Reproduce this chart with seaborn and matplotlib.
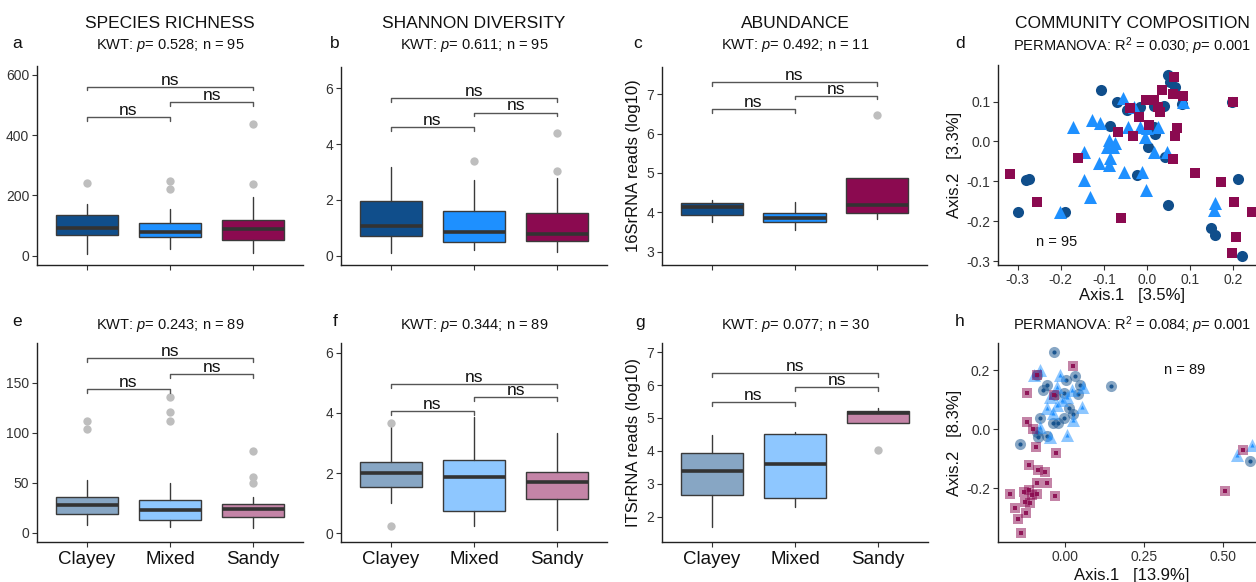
import numpy as np
import pandas as pd
import matplotlib
matplotlib.use("Agg")
import matplotlib.pyplot as plt
from matplotlib.colors import to_rgba
import seaborn as sns

# ---------------- data ----------------
groups = ["Clayey", "Mixed", "Sandy"]
group_colors = ["#104E8B", "#1E90FF", "#8B0A50"]

# box summaries per group: [lower whisker, Q1, median, Q3, upper whisker]
rich_bact = [[6, 69, 91, 135, 171], [21, 61, 77.5, 107, 155], [8, 52, 87.5, 117, 196]]
rich_bact_out = [[242], [249, 222], [237, 436.5]]
rich_bact_br = [459, 509, 560]

shan_bact = [[0.085, 0.706, 1.06, 1.97, 3.17], [0.2, 0.5, 0.84, 1.6, 2.71], [0.12, 0.54, 0.77, 1.54, 2.77]]
shan_bact_out = [[], [3.39], [3.04, 4.39]]
shan_bact_br = [4.61, 5.13, 5.64]

abun_bact = [[3.75, 3.93, 4.14, 4.24, 4.31], [3.55, 3.76, 3.86, 3.97, 4.26], [3.83, 3.98, 4.19, 4.87, 4.87]]
abun_bact_out = [[], [], [6.46]]
abun_bact_br = [6.62, 6.96, 7.31]

rich_fung = [[7.7, 18.7, 28, 35.7, 52.7], [6, 12.7, 22.7, 32.7, 49.3], [5, 15.3, 24, 28.7, 36]]
rich_fung_out = [[111.3, 104], [136, 120.3, 111.3], [82, 55.3, 50]]
rich_fung_br = [143.3, 158.7, 174.3]

shan_fung = [[1.0, 1.55, 2.0, 2.38, 3.54], [0.24, 0.73, 1.87, 2.43, 3.87], [0.11, 1.15, 1.71, 2.05, 3.32]]
shan_fung_out = [[3.65, 0.25], [], []]
shan_fung_br = [4.06, 4.52, 4.96]

abun_fung = [[1.68, 2.66, 3.38, 3.95, 4.48], [2.30, 2.58, 3.59, 4.52, 4.57], [4.85, 4.85, 5.16, 5.21, 5.29]]
abun_fung_out = [[], [], [4.04]]
abun_fung_br = [5.48, 5.93, 6.37]

# ordination (bacteria)
d_clayey_x = [-0.106, 0.049, 0.054, 0.066, -0.070, -0.016, 0.016, 0.039, 0.081, -0.085, 0.019, 0.002,
              0.043, -0.022, -0.281, -0.275, -0.300, -0.190, 0.050, 0.149, 0.159, 0.213, 0.199, 0.221,
              -0.047, 0.016]
d_clayey_y = [0.129, 0.167, 0.150, 0.136, 0.100, 0.087, 0.089, 0.089, 0.093, 0.039, 0.020, -0.013,
              -0.038, -0.084, -0.097, -0.094, -0.176, -0.176, -0.160, -0.217, -0.235, -0.093, 0.098, -0.288,
              0.079, 0.037]
d_mixed_x = [-0.056, -0.128, -0.171, -0.109, -0.089, -0.078, -0.093, -0.074, -0.146, -0.112, -0.085,
             -0.089, -0.146, -0.133, -0.054, -0.012, -0.002, 0.016, 0.047, -0.043, -0.016, 0.000,
             0.027, -0.004, -0.202, 0.159, 0.157, 0.085, -0.031]
d_mixed_y = [0.108, 0.054, 0.036, 0.046, 0.004, -0.013, -0.013, -0.005, -0.026, -0.055, -0.042,
             -0.059, -0.097, -0.139, -0.076, -0.076, -0.122, -0.026, -0.026, 0.037, 0.037, 0.033,
             0.037, 0.012, -0.176, -0.155, -0.172, 0.100, 0.087]
d_sandy_x = [-0.318, -0.256, -0.161, -0.067, -0.033, -0.060, -0.039, -0.018, 0.005, -0.002, 0.016,
             0.027, 0.031, 0.036, 0.060, 0.062, 0.085, 0.071, 0.066, 0.060, 0.111, 0.173, 0.200,
             0.202, 0.208, 0.199, 0.244]
d_sandy_y = [-0.082, -0.151, -0.042, 0.023, 0.014, -0.193, 0.083, 0.062, 0.041, 0.104, 0.104,
             0.087, 0.075, 0.129, 0.119, 0.161, 0.113, 0.033, 0.014, -0.045, -0.078, -0.101, 0.100,
             -0.151, -0.239, -0.279, -0.178]

# ordination (fungi)
h_clayey_x = [-0.034, 0.145, -0.143, -0.058, 0.003, 0.032, 0.048, 0.042, -0.003, -0.069, -0.079,
              -0.037, -0.021, -0.005, 0.011, 0.026, -0.090, -0.058, -0.085, -0.090, 0.587, -0.032]
h_clayey_y = [0.262, 0.146, -0.051, 0.151, 0.168, 0.180, 0.149, 0.119, 0.124, 0.132, 0.036,
              0.019, 0.019, 0.036, 0.070, 0.050, -0.009, -0.023, -0.026, 0.183, -0.108, 0.115]
h_mixed_x = [-0.098, -0.079, -0.016, -0.048, -0.026, -0.058, -0.037, -0.011, 0.005, 0.053, 0.026,
             0.005, -0.048, -0.079, 0.058, 0.593, 0.545, -0.026, 0.021]
h_mixed_y = [0.183, 0.200, 0.183, 0.110, 0.081, 0.070, 0.053, 0.098, 0.110, 0.076, 0.031,
             -0.020, -0.026, 0.008, 0.144, -0.054, -0.088, 0.144, 0.132]
h_sandy_x = [0.024, -0.090, -0.120, -0.034, -0.120, -0.103, -0.092, -0.030, -0.116, -0.085, -0.063,
             -0.058, -0.175, -0.132, -0.116, -0.106, -0.090, -0.111, -0.127, -0.032, -0.159, -0.151,
             -0.124, -0.140, 0.564, 0.508, -0.090]
h_sandy_y = [0.214, 0.183, 0.121, 0.115, 0.025, -0.001, -0.060, -0.082, -0.122, -0.139, -0.145,
             -0.182, -0.220, -0.212, -0.207, -0.224, -0.220, -0.252, -0.246, -0.227, -0.269, -0.306,
             -0.286, -0.354, -0.071, -0.209, -0.184]

col_titles = ["SPECIES RICHNESS", "SHANNON DIVERSITY", "ABUNDANCE", "COMMUNITY COMPOSITION"]

# ---------------- style ----------------
sns.set_theme(style="ticks")
plt.rcParams["font.family"] = ["Liberation Sans", "DejaVu Sans"]
plt.rcParams["mathtext.fontset"] = "custom"
plt.rcParams["mathtext.rm"] = "Liberation Sans"
plt.rcParams["mathtext.it"] = "Liberation Sans:italic"

W, H = 1256, 582
fig = plt.figure(figsize=(W / 100, H / 100), dpi=100)


def rect(x0, y0, x1, y1):
    return [x0 / W, 1 - y1 / H, (x1 - x0) / W, (y1 - y0) / H]


def style_axes(ax):
    sns.despine(ax=ax)
    for s in ["left", "bottom"]:
        ax.spines[s].set_color("#222222")
        ax.spines[s].set_linewidth(1.0)
    ax.tick_params(axis="both", direction="out", length=3.5, width=0.8, color="#333333",
                   labelsize=10, labelcolor="#333333", pad=2)


def box_panel(ax, stats, outs, brackets, alpha, ylim, yticks, xlabels, ylabel=None):
    bstats = []
    for g, s, o in zip(groups, stats, outs):
        bstats.append(dict(whislo=s[0], q1=s[1], med=s[2], q3=s[3], whishi=s[4],
                           fliers=np.array(o, dtype=float), label=g))
    bp = ax.bxp(bstats, positions=[0, 1, 2], widths=0.75, patch_artist=True, showcaps=False,
                boxprops=dict(edgecolor="#3a3a3a", linewidth=1.0),
                medianprops=dict(color="#333333", linewidth=2.6, solid_capstyle="butt"),
                whiskerprops=dict(color="#3a3a3a", linewidth=1.0),
                flierprops=dict(marker="o", markerfacecolor="#BEBEBE", markeredgecolor="none",
                                markersize=6))
    for patch, c in zip(bp["boxes"], group_colors):
        patch.set_facecolor(to_rgba(c, alpha))
    pairs = [(0, 1), (1, 2), (0, 2)]
    span = ylim[1] - ylim[0]
    tick = 0.018 * span
    for (i, j), yb in zip(pairs, brackets):
        ax.plot([i, i, j, j], [yb - tick, yb, yb, yb - tick], color="#555555", lw=1.0)
        ax.annotate("ns", xy=((i + j) / 2, yb), xytext=(0, 1.5), textcoords="offset points",
                    ha="center", va="baseline", fontsize=12.5, color="#111111")
    ax.set_xlim(-0.6, 2.6)
    ax.set_ylim(*ylim)
    ax.set_yticks(yticks)
    style_axes(ax)
    ax.set_xticks([0, 1, 2])
    if xlabels:
        ax.set_xticklabels(groups, fontsize=13.5, color="#111111")
        ax.tick_params(axis="x", labelcolor="#111111", labelsize=13.5, pad=3)
    else:
        ax.set_xticklabels([])
    ax.set_xlabel("")
    if ylabel:
        ax.set_ylabel(ylabel, fontsize=12, color="#111111", labelpad=4)


def scatter_panel(ax, xs, ys, two_layer):
    shapes = {"Clayey": "o", "Mixed": "^", "Sandy": "s"}
    sizes = {"Clayey": 64, "Mixed": 88, "Sandy": 52}
    for g, c, x, y in zip(groups, group_colors, xs, ys):
        df = pd.DataFrame({"x": x, "y": y})
        if two_layer:
            sns.scatterplot(data=df, x="x", y="y", ax=ax, marker=shapes[g], color=c,
                            s=sizes[g] * 1.0, alpha=0.5, linewidth=0, legend=False)
            sns.scatterplot(data=df, x="x", y="y", ax=ax, marker=shapes[g], color=c,
                            s=9, alpha=0.9, linewidth=0, legend=False)
        else:
            sns.scatterplot(data=df, x="x", y="y", ax=ax, marker=shapes[g], color=c,
                            s=sizes[g], linewidth=0, legend=False)
    style_axes(ax)


# ---------------- top row ----------------
ax_a = fig.add_axes(rect(37, 66, 303, 265))
box_panel(ax_a, rich_bact, rich_bact_out, rich_bact_br, 1.0, (-31, 629), [0, 200, 400, 600], False)
ax_b = fig.add_axes(rect(341, 67, 607, 265))
box_panel(ax_b, shan_bact, shan_bact_out, shan_bact_br, 1.0, (-0.33, 6.76), [0, 2, 4, 6], False)
ax_c = fig.add_axes(rect(662, 67, 927, 265))
box_panel(ax_c, abun_bact, abun_bact_out, abun_bact_br, 1.0, (2.66, 7.69), [3, 4, 5, 6, 7], False,
          ylabel="16SrRNA reads (log10)")

ax_d = fig.add_axes(rect(998, 65, 1266, 265))
scatter_panel(ax_d, [d_clayey_x, d_mixed_x, d_sandy_x], [d_clayey_y, d_mixed_y, d_sandy_y], False)
ax_d.set_xlim(-0.346, 0.277)
ax_d.set_ylim(-0.31, 0.192)
ax_d.set_xticks([-0.3, -0.2, -0.1, 0.0, 0.1, 0.2])
ax_d.set_xticklabels(["-0.3", "-0.2", "-0.1", "0.0", "0.1", "0.2"])
ax_d.set_yticks([-0.3, -0.2, -0.1, 0.0, 0.1])
ax_d.set_yticklabels(["-0.3", "-0.2", "-0.1", "0.0", "0.1"])
ax_d.set_xlabel("Axis.1   [3.5%]", fontsize=12, color="#111111", labelpad=1)
ax_d.set_ylabel("Axis.2   [3.3%]", fontsize=12, color="#111111", labelpad=3)
ax_d.text(-0.209, -0.252, "n = 95", fontsize=10.5, ha="center", va="center", color="#111111")

# ---------------- bottom row ----------------
ax_e = fig.add_axes(rect(37, 343, 303, 542))
box_panel(ax_e, rich_fung, rich_fung_out, rich_fung_br, 0.5, (-9.3, 189.7), [0, 50, 100, 150], True)
ax_f = fig.add_axes(rect(341, 343, 607, 542))
box_panel(ax_f, shan_fung, shan_fung_out, shan_fung_br, 0.5, (-0.29, 6.32), [0, 2, 4, 6], True)
ax_g = fig.add_axes(rect(662, 343, 928, 542))
box_panel(ax_g, abun_fung, abun_fung_out, abun_fung_br, 0.5, (1.23, 7.28), [2, 3, 4, 5, 6, 7], True,
          ylabel="ITSrRNA reads (log10)")

ax_h = fig.add_axes(rect(998, 343, 1266, 542))
scatter_panel(ax_h, [h_clayey_x, h_mixed_x, h_sandy_x], [h_clayey_y, h_mixed_y, h_sandy_y], True)
ax_h.set_xlim(-0.213, 0.638)
ax_h.set_ylim(-0.383, 0.292)
ax_h.set_xticks([0.0, 0.25, 0.5])
ax_h.set_xticklabels(["0.00", "0.25", "0.50"])
ax_h.set_yticks([-0.2, 0.0, 0.2])
ax_h.set_yticklabels(["-0.2", "0.0", "0.2"])
ax_h.set_xlabel("Axis.1   [13.9%]", fontsize=12, color="#111111", labelpad=3)
ax_h.set_ylabel("Axis.2   [8.3%]", fontsize=12, color="#111111", labelpad=3)
ax_h.text(0.379, 0.2, "n = 89", fontsize=10.5, ha="center", va="center", color="#111111")

# ---------------- titles / labels ----------------
centers = [170, 474, 795, 1132]
for cx, t in zip(centers, col_titles):
    fig.text(cx / W, 1 - 23 / H, t, ha="center", va="center", fontsize=12.5, color="#111111")

subs_top = ["KWT: $p$= 0.528; n = 95", "KWT: $p$= 0.611; n = 95", "KWT: $p$= 0.492; n = 11",
            "PERMANOVA: R$^{2}$ = 0.030; $p$= 0.001"]
subs_bot = ["KWT: $p$= 0.243; n = 89", "KWT: $p$= 0.344; n = 89", "KWT: $p$= 0.077; n = 30",
            "PERMANOVA: R$^{2}$ = 0.084; $p$= 0.001"]
for cx, t in zip(centers, subs_top):
    fig.text(cx / W, 1 - 46 / H, t, ha="center", va="center", fontsize=10.5, color="#111111")
for cx, t in zip(centers, subs_bot):
    fig.text(cx / W, 1 - 325 / H, t, ha="center", va="center", fontsize=10.5, color="#111111")

letters_top = [("a", 17), ("b", 335), ("c", 638), ("d", 960)]
letters_bot = [("e", 17), ("f", 335), ("g", 640), ("h", 960)]
for l, x in letters_top:
    fig.text(x / W, 1 - 44 / H, l, ha="center", va="center", fontsize=12.5, color="#111111")
for l, x in letters_bot:
    fig.text(x / W, 1 - 322 / H, l, ha="center", va="center", fontsize=12.5, color="#111111")

fig.savefig("out.png", dpi=100)
